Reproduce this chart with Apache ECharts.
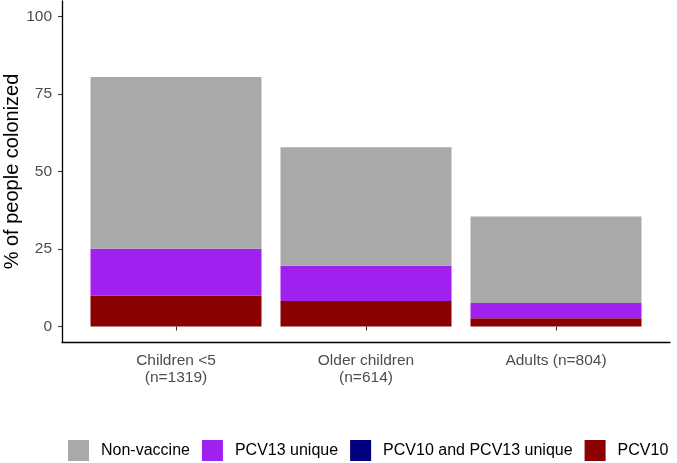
<!DOCTYPE html>
<html><head><meta charset="utf-8">
<script src="https://cdn.jsdelivr.net/npm/echarts@6/dist/echarts.min.js"></script>
<style>html,body{margin:0;padding:0;background:#fff}#c{width:677px;height:463px}</style>
</head><body><div id="c"></div>
<script>
const categories = ["Children <5\n(n=1319)", "Older children\n(n=614)", "Adults (n=804)"];
const pcv10 = [10.0, 8.2, 2.7];
const pcv10and13 = [0, 0, 0];
const pcv13unique = [15.1, 11.4, 4.9];
const nonVaccine = [55.4, 38.2, 27.9];
const yTicks = [0, 25, 50, 75, 100];

const chart = echarts.init(document.getElementById('c'));
const font = 'Liberation Sans, Arial, sans-serif';
function mk(name, vals, color) {
  return {
    name: name, type: 'bar', stack: 'a', barWidth: '90%',
    xAxisIndex: 1, yAxisIndex: 1,
    itemStyle: {color: color},
    data: vals
  };
}
chart.setOption({
  animation: false,
  textStyle: {fontFamily: font},
  grid: [
    {left: 62, right: 7, top: 1, bottom: 121, containLabel: false, outerBoundsMode: 'none'},
    {left: 81, right: 26, top: 1, bottom: 121, containLabel: false, outerBoundsMode: 'none'}
  ],
  xAxis: [{
    gridIndex: 0, type: 'value', min: 0, max: 1,
    splitLine: {show: false},
    axisLine: {show: true, onZero: false, lineStyle: {color: '#000', width: 1.3}},
    axisTick: {show: false}, axisLabel: {show: false}
  }, {
    gridIndex: 1, type: 'category', data: categories,
    axisLine: {show: false},
    axisTick: {show: true, alignWithLabel: true, length: 4, lineStyle: {color: '#333', width: 1.1}},
    axisLabel: {color: '#4d4d4d', fontSize: 15.5, lineHeight: 17, margin: 10, fontFamily: font}
  }],
  yAxis: [{
    gridIndex: 0, type: 'value', min: -5, max: 105,
    name: '% of people colonized', nameLocation: 'middle', nameGap: 40, nameRotate: 90,
    nameMoveOverlap: false,
    nameTextStyle: {fontSize: 20, color: '#000', fontFamily: font},
    splitLine: {show: false},
    axisLine: {show: true, onZero: false, lineStyle: {color: '#000', width: 1.3}},
    axisTick: {show: true, customValues: yTicks, length: 4, lineStyle: {color: '#333', width: 1.1}},
    axisLabel: {customValues: yTicks, color: '#4d4d4d', fontSize: 15.5, margin: 10, fontFamily: font}
  }, {
    gridIndex: 1, type: 'value', min: -5, max: 105, show: false,
    splitLine: {show: false}
  }],
  legend: {
    top: 440, left: 68, itemWidth: 21, itemHeight: 21, itemGap: 12, padding: 0,
    icon: 'rect',
    data: ['Non-vaccine', 'PCV13 unique', 'PCV10 and PCV13 unique', 'PCV10'],
    textStyle: {fontSize: 16, color: '#000', fontFamily: font, padding: [0, 0, 0, 7]}
  },
  series: [
    mk('PCV10', pcv10, '#8B0000'),
    mk('PCV10 and PCV13 unique', pcv10and13, '#000080'),
    mk('PCV13 unique', pcv13unique, '#A020F0'),
    mk('Non-vaccine', nonVaccine, '#A9A9A9')
  ]
});
</script></body></html>
